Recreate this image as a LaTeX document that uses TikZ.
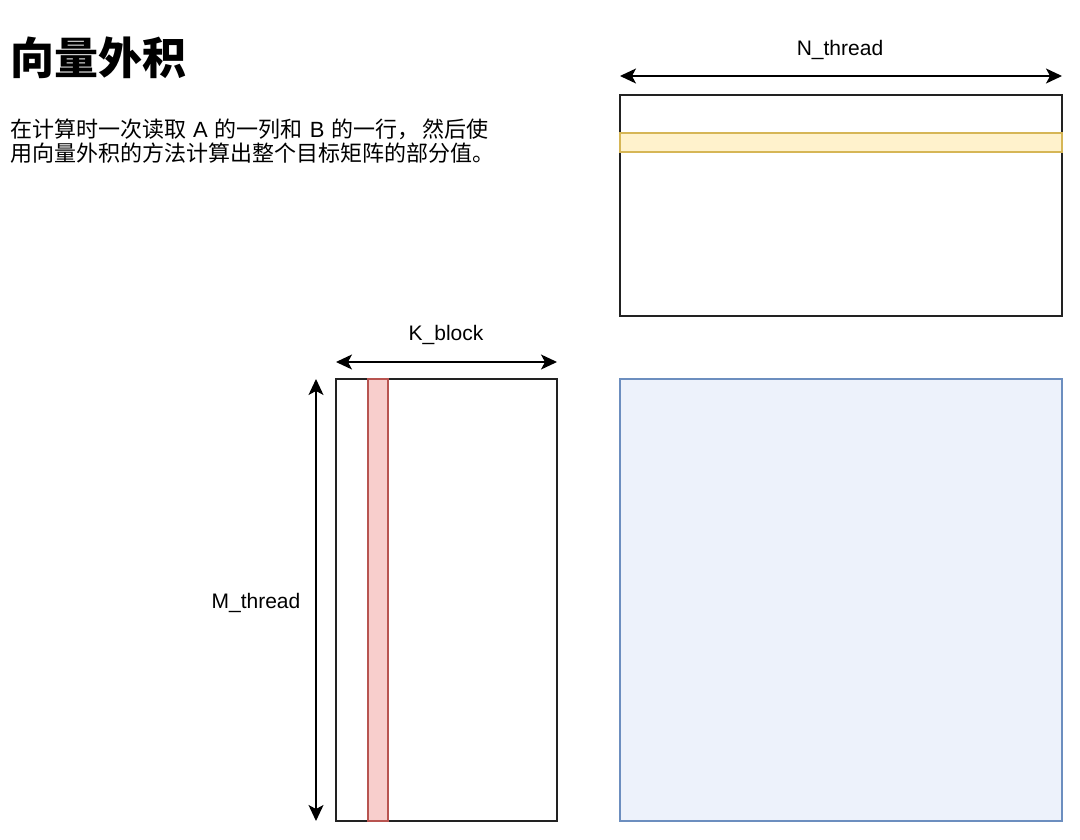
\documentclass[tikz,border=0pt]{standalone}
\usepackage{fontspec}
\setmainfont{Liberation Sans}
\newfontfamily\cjk{Noto Sans CJK SC}
\newfontfamily\lat{Liberation Sans}
\usetikzlibrary{arrows.meta}
\definecolor{ybandfill}{HTML}{FFF2CC}
\definecolor{ybanddraw}{HTML}{D6B656}
\definecolor{rbandfill}{HTML}{F8CECC}
\definecolor{rbanddraw}{HTML}{B85450}
\definecolor{cfill}{HTML}{EDF2FB}
\definecolor{cdraw}{HTML}{6C8EBF}
\definecolor{boxdraw}{HTML}{222222}
\newcommand{\latsp}[1]{\hspace{7pt}{\lat #1}\hspace{7pt}}
\begin{document}
\begin{tikzpicture}[x=1pt,y=-1pt,
  box/.style={draw=boxdraw, line width=1.5pt, inner sep=0pt, outer sep=0pt, anchor=north west},
  band/.style={line width=1.5pt, inner sep=0pt, outer sep=0pt, anchor=north west},
  dim/.style={{Stealth[length=16pt,width=15pt,inset=4pt]}-{Stealth[length=16pt,width=15pt,inset=4pt]}, line width=1.4pt, draw=black},
  lab/.style={font=\fontsize{21}{25}\selectfont, inner sep=0pt}]
\useasboundingbox (0,0) rectangle (1080,840);
% title and description
\node[anchor=west, inner sep=0pt, font=\cjk\bfseries\fontsize{44}{48}\selectfont] (title) at (10,58) {向量外积};
\node[anchor=north west, align=left, inner sep=0pt, font=\cjk\fontsize{22}{23.5}\selectfont] (desc) at (10,119) {在计算时一次读取\latsp{A}的一列和\latsp{B}的一行，\hspace{3pt}然后使\\用向量外积的方法计算出整个目标矩阵的部分值。};
% matrix B (top)
\node[box, minimum width=442pt, minimum height=221pt] (B) at (620,95) {};
\node[band, fill=ybandfill, draw=ybanddraw, minimum width=442pt, minimum height=19pt] (brow) at (620,133) {};
% matrix A (left)
\node[box, minimum width=221pt, minimum height=442pt] (A) at (336,379) {};
\node[band, fill=rbandfill, draw=rbanddraw, minimum width=20pt, minimum height=442pt] (acol) at (368,379) {};
% matrix C
\node[band, fill=cfill, draw=cdraw, minimum width=442pt, minimum height=442pt] (C) at (620,379) {};
% dimension arrows
\coordinate (n1) at (620,76);
\coordinate (n2) at (1062,76);
\coordinate (k1) at (336,362);
\coordinate (k2) at (557,362);
\coordinate (m1) at (316,379);
\coordinate (m2) at (316,821);
\draw[dim] (n1) -- (n2);
\draw[dim] (k1) -- (k2);
\draw[dim] (m1) -- (m2);
\node[lab] (nlab) at (840,50) {N\_thread};
\node[lab] (klab) at (446,335) {K\_block};
\node[lab] (mlab) at (256,603) {M\_thread};
\end{tikzpicture}
\end{document}
